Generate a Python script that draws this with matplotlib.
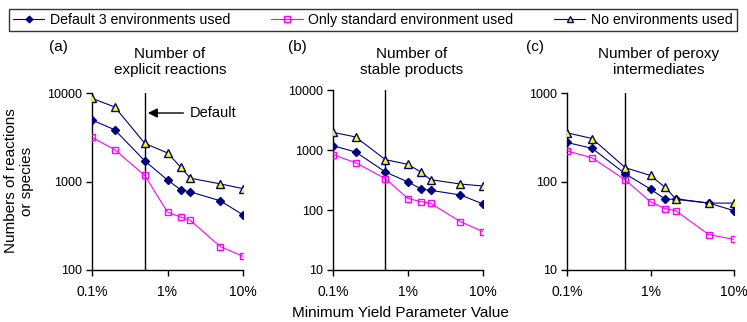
import matplotlib
matplotlib.use("Agg")
import matplotlib.pyplot as plt
from matplotlib.lines import Line2D

plt.rcParams["font.family"] = ["Liberation Sans", "DejaVu Sans"]

NAVY = "#000080"
MAG = "#FF00FF"
YEL = "#FFFF00"

# minimum yield parameter (%)
yield_pct = [0.1, 0.2, 0.5, 1, 1.5, 2, 5, 10]
default_yield = 0.5

series_names = ["Default 3 environments used", "Only standard environment used",
                "No environments used"]

# (a) explicit reactions
react_default = [4950, 3840, 1710, 1040, 805, 765, 605, 420]
react_std = [3160, 2290, 1170, 450, 395, 365, 184, 143]
react_none = [8700, 6950, 2700, 2100, 1450, 1090, 940, 830]

# (b) stable products
stable_default = [1180, 926, 430, 293, 224, 213, 178, 126]
stable_std = [836, 615, 333, 155, 138, 129, 64, 43.5]
stable_none = [1970, 1650, 690, 577, 425, 320, 271, 251]

# (c) peroxy intermediates
peroxy_default = [276, 237, 122, 82, 63.2, 63, 57, 46.8]
peroxy_std = [222, 185, 104, 59, 49.3, 46.8, 25.1, 22.2]
peroxy_none = [355, 306, 143, 117, 85.6, 63.8, 57, 57]

panel_tags = ["(a)", "(b)", "(c)"]
panel_titles = ["Number of\nexplicit reactions", "Number of\nstable products",
                "Number of peroxy\nintermediates"]
panel_data = [(react_default, react_std, react_none),
              (stable_default, stable_std, stable_none),
              (peroxy_default, peroxy_std, peroxy_none)]
panel_ylims = [(100, 10000), (10, 10000), (10, 1000)]
x_ticks = [0.1, 1, 10]
x_ticklabels = ["0.1%", "1%", "10%"]

W, H = 747, 322
fig = plt.figure(figsize=(W / 100, H / 100), dpi=100)

# axes boxes in pixels: left, right, top, bottom
boxes = [(92, 243, 93, 270), (333, 483, 90, 270), (567, 734, 93, 270)]
title_x = [170, 412, 659]
tag_x = [49, 288, 526]

styles = [
    dict(color=NAVY, marker="D", markersize=4.2, mfc=NAVY, mec=NAVY),
    dict(color=MAG, marker="s", markersize=5, mfc="none", mec=MAG),
    dict(color=NAVY, marker="^", markersize=6, mfc=YEL, mec=NAVY),
]

axes = []
for i, (l, r, t, b) in enumerate(boxes):
    ax = fig.add_axes([l / W, 1 - b / H, (r - l) / W, (b - t) / H])
    axes.append(ax)
    for vals, st in zip(panel_data[i], styles):
        ax.plot(yield_pct, vals, lw=0.8, markeredgewidth=1.0, zorder=3, **st)
    ax.axvline(default_yield, color="black", lw=1.0, zorder=2)
    ax.set_xscale("log")
    ax.set_yscale("log")
    ax.set_xlim(0.1, 10)
    ax.set_ylim(*panel_ylims[i])
    ax.set_xticks(x_ticks)
    ax.set_xticklabels(x_ticklabels, fontsize=10)
    ax.minorticks_off()
    yt = [v for v in [10, 100, 1000, 10000] if panel_ylims[i][0] <= v <= panel_ylims[i][1]]
    ax.set_yticks(yt)
    ax.set_yticklabels([str(v) for v in yt], fontsize=9)
    ax.tick_params(axis="x", direction="out", length=4, width=1, pad=7)
    ax.tick_params(axis="y", direction="out", length=4, width=1, pad=3)
    for s in ["top", "right"]:
        ax.spines[s].set_visible(False)
    for s in ["left", "bottom"]:
        ax.spines[s].set_linewidth(1.0)
    ax.patch.set_visible(False)

    fig.text(title_x[i] / W, 1 - 62 / H, panel_titles[i], ha="center", va="center",
             fontsize=11, linespacing=1.15)
    fig.text(tag_x[i] / W, 1 - 47 / H, panel_tags[i], ha="left", va="center", fontsize=11)

# default arrow on panel (a)
axes[0].annotate("", xy=(0.37, 0.887), xytext=(0.605, 0.887), xycoords="axes fraction",
                 arrowprops=dict(arrowstyle="-|>", color="black", lw=1.0,
                                 mutation_scale=14, shrinkA=0, shrinkB=0))
axes[0].text(0.65, 0.887, "Default", transform=axes[0].transAxes, ha="left",
             va="center", fontsize=10.5)

fig.text(19 / W, 1 - 181 / H, "Numbers of reactions\nor species", rotation=90,
         ha="center", va="center", fontsize=11, linespacing=1.2)
fig.text(400 / W, 1 - 313 / H, "Minimum Yield Parameter Value", ha="center",
         va="center", fontsize=11)

handles = [Line2D([], [], lw=0.8, markeredgewidth=1.0, markersize=st["markersize"] * 0.8,
                  **{k: v for k, v in st.items() if k != "markersize"})
           for st in styles]
leg = fig.legend(handles, series_names, loc="lower left", ncol=3, mode="expand",
                 bbox_to_anchor=(9 / W, 1 - 31 / H, 728 / W, 30 / H),
                 bbox_transform=fig.transFigure, fontsize=10.2, frameon=True,
                 fancybox=False, edgecolor="black", borderaxespad=0,
                 handlelength=2.2, handletextpad=0.4, borderpad=0.3)
leg.get_frame().set_linewidth(1.0)

fig.savefig("out.png", dpi=100)
